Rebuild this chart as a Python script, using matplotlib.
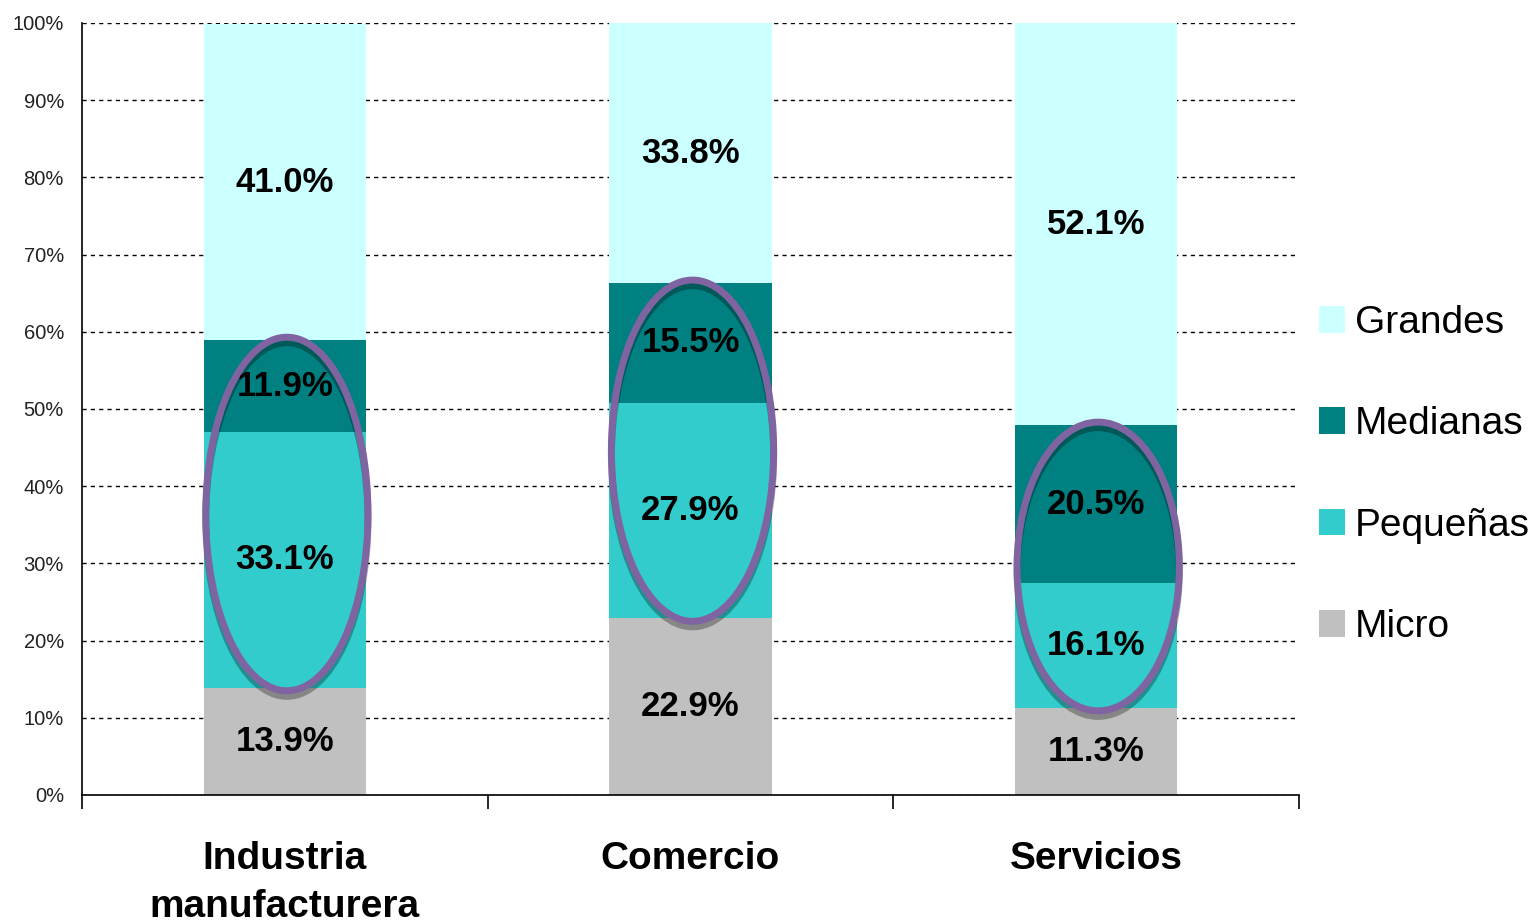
import matplotlib
matplotlib.use("Agg")
import matplotlib.pyplot as plt
from matplotlib.patches import Ellipse, Patch
import matplotlib.patheffects as pe
import numpy as np

categories = ["Industria\nmanufacturera", "Comercio", "Servicios"]
series_names = ["Micro", "Pequeñas", "Medianas", "Grandes"]
micro = [13.9, 22.9, 11.3]
pequenas = [33.1, 27.9, 16.1]
medianas = [11.9, 15.5, 20.5]
grandes = [41.0, 33.8, 52.1]
colors = ["#C0C0C0", "#33CCCC", "#008080", "#CCFFFF"]
yticks = list(range(0, 101, 10))

plt.rcParams['font.family'] = ['Liberation Sans', 'DejaVu Sans']

fig = plt.figure(figsize=(15.37, 9.23), dpi=100)
ax = fig.add_axes([82/1537, 1-795/923, (1299-82)/1537, (795-23)/923])

x = np.arange(len(categories))
width = 0.40
series = [micro, pequenas, medianas, grandes]
bottom = np.zeros(len(categories))
for name, vals, col in zip(series_names, series, colors):
    vals = np.array(vals)
    cont = ax.bar(x, vals, width, bottom=bottom, color=col, label=name, zorder=2)
    ax.bar_label(cont, labels=[f"{v:.1f}%" for v in vals], label_type='center',
                 fontsize=25, fontweight='bold', color='black', zorder=5)
    bottom = bottom + vals

# highlight ellipses around Pequeñas + Medianas
lo = np.array(micro)
hi = np.array(micro) + np.array(pequenas) + np.array(medianas)
for xi, l, h in zip(x, lo, hi):
    e = Ellipse((xi + 0.005, (l + h) / 2), width=0.40, height=(h - l) + 0.8,
                fill=False, edgecolor='#8064A2', linewidth=5, zorder=6,
                path_effects=[pe.SimpleLineShadow(offset=(0, -4), shadow_color='black', alpha=0.3),
                              pe.Normal()])
    ax.add_patch(e)

ax.set_ylim(0, 100)
ax.set_xlim(-0.5, 2.5)
ax.set_yticks(yticks)
ax.set_yticklabels([f"{t}%" for t in yticks], fontsize=14.5, color='#222222')
ax.tick_params(axis='y', length=0, pad=13)
ax.yaxis.grid(True, linestyle=(0, (3, 3)), color='black', linewidth=1)
ax.set_axisbelow(True)

ax.set_xticks(x)
ax.set_xticklabels(categories, fontsize=28, fontweight='bold', linespacing=1.45)
ax.tick_params(axis='x', length=0, pad=33)
ax.set_xticks([-0.5, 0.5, 1.5, 2.5], minor=True)
ax.tick_params(axis='x', which='minor', length=10, width=1.2, direction='out', color='black')

for s in ['top', 'right']:
    ax.spines[s].set_visible(False)
ax.spines['left'].set_linewidth(1.2)
ax.spines['bottom'].set_linewidth(1.2)

handles = [Patch(facecolor=c, edgecolor='none') for c in colors][::-1]
labels = series_names[::-1]
fig.legend(handles, labels, loc='center left', bbox_to_anchor=(1319/1537, 1-475/923),
           frameon=False, fontsize=28, handlelength=0.67, handleheight=0.67,
           handletextpad=0.25, labelspacing=1.68, borderpad=0, borderaxespad=0)

fig.savefig("out.png", dpi=100)
